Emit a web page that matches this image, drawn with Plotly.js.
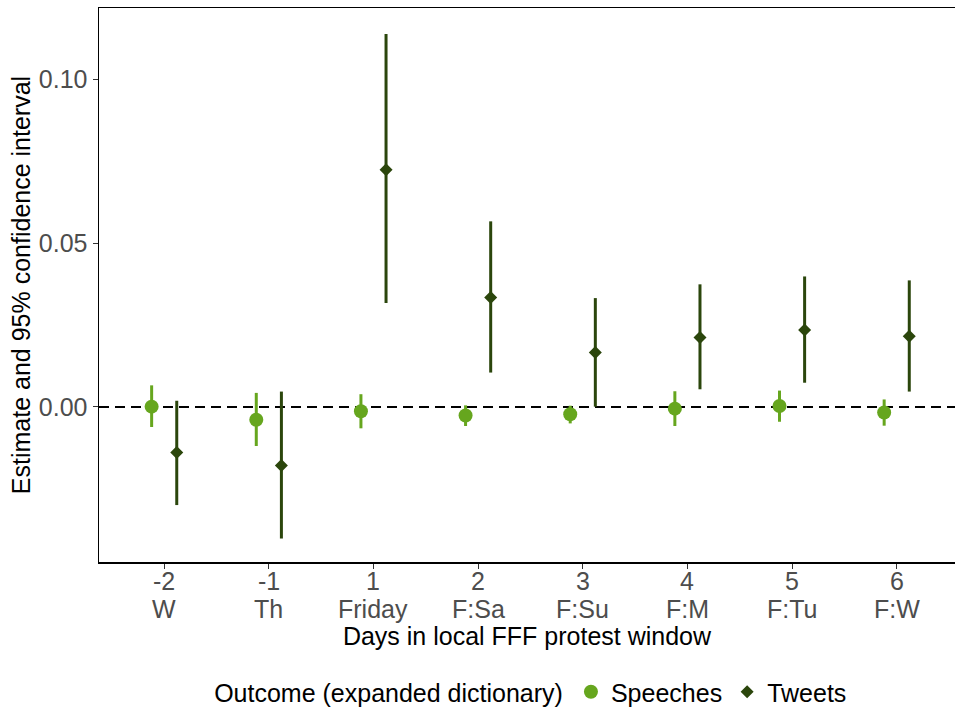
<!DOCTYPE html>
<html>
<head>
<meta charset="utf-8">
<script src="https://cdn.plot.ly/plotly-3.0.1.min.js"></script>
<style>html,body{margin:0;padding:0;background:#fff;}#chart{width:955px;height:712px;}</style>
</head>
<body>
<div id="chart"></div>
<script>
// Data
const dayNumbers = ["-2", "-1", "1", "2", "3", "4", "5", "6"];
const dayNames = ["W", "Th", "Friday", "F:Sa", "F:Su", "F:M", "F:Tu", "F:W"];

const speechesEst = [0.0001, -0.0039, -0.0013, -0.0026, -0.0022, -0.0005, 0.0003, -0.0017];
const speechesLo  = [-0.0061, -0.0119, -0.0065, -0.0058, -0.0050, -0.0058, -0.0045, -0.0057];
const speechesHi  = [0.0066, 0.0043, 0.0039, 0.0005, 0.0004, 0.0048, 0.0050, 0.0023];

const tweetsEst = [-0.0139, -0.0178, 0.0723, 0.0334, 0.0166, 0.0212, 0.0235, 0.0216];
const tweetsLo  = [-0.0299, -0.0401, 0.0317, 0.0105, 0.0001, 0.0054, 0.0074, 0.0047];
const tweetsHi  = [0.0019, 0.0047, 0.1137, 0.0566, 0.0332, 0.0374, 0.0398, 0.0386];

const yTickVals = [0.00, 0.05, 0.10];
const yTickText = ["0.00", "0.05", "0.10"];

const dodge = 0.12;
const idx = dayNumbers.map((_, i) => i);

const FONT = "Liberation Sans, Arial, Helvetica, sans-serif";
const FS = 25;
const greenCol = "#66a61e";
const darkCol = "#2b460c";

const traces = [
  {
    type: "scatter", mode: "markers", name: "Speeches",
    x: idx.map(i => i - dodge), y: speechesEst,
    error_y: {
      type: "data", symmetric: false,
      array: speechesHi.map((h, i) => h - speechesEst[i]),
      arrayminus: speechesEst.map((e, i) => e - speechesLo[i]),
      color: greenCol, thickness: 3, width: 0
    },
    marker: {symbol: "circle", size: 14, color: greenCol},
    cliponaxis: false
  },
  {
    type: "scatter", mode: "markers", name: "Tweets",
    x: idx.map(i => i + dodge), y: tweetsEst,
    error_y: {
      type: "data", symmetric: false,
      array: tweetsHi.map((h, i) => h - tweetsEst[i]),
      arrayminus: tweetsEst.map((e, i) => e - tweetsLo[i]),
      color: darkCol, thickness: 3, width: 0
    },
    marker: {symbol: "diamond", size: 10, color: darkCol},
    cliponaxis: false
  }
];

// two-line x tick labels: day number, then day name
function tickAnn(text, i, shift) {
  return {
    x: idx[i], xref: "x", y: 0, yref: "paper",
    text: text, showarrow: false, yanchor: "middle", yshift: shift,
    font: {family: FONT, size: FS, color: "#4d4d4d"}
  };
}
const tickAnnotations = dayNumbers.map((d, i) => tickAnn(d, i, -19))
  .concat(dayNames.map((n, i) => tickAnn(n, i, -47)));

const layout = {
  width: 955, height: 712,
  margin: {l: 99, r: 0, t: 8, b: 150},
  paper_bgcolor: "#fff", plot_bgcolor: "#fff",
  font: {family: FONT, size: FS, color: "#000"},
  showlegend: true,
  xaxis: {
    automargin: false,
    range: [-0.623, 7.557],
    tickmode: "array", tickvals: idx, showticklabels: false,
    showgrid: false, zeroline: false,
    showline: true, mirror: true, linecolor: "#000", linewidth: 1.5,
    ticks: "outside", ticklen: 5, tickcolor: "#333", tickwidth: 1,
    title: {text: "Days in local FFF protest window", font: {family: FONT, size: FS, color: "#000"}, standoff: 60}
  },
  yaxis: {
    automargin: false,
    range: [-0.04726, 0.12165],
    tickmode: "array", tickvals: yTickVals, ticktext: yTickText,
    showgrid: false, zeroline: false,
    showline: true, linecolor: "#000", linewidth: 1.5,
    ticks: "outside", ticklen: 5, tickcolor: "#333", tickwidth: 1,
    tickfont: {family: FONT, size: FS, color: "#4d4d4d"},
    title: {text: "Estimate and 95% confidence interval", font: {family: FONT, size: FS, color: "#000"}, standoff: 1}
  },
  legend: {
    orientation: "h", xref: "paper", x: 0.506, xanchor: "center",
    yref: "container", y: 0.028, yanchor: "middle",
    title: {text: "Outcome (expanded dictionary)", side: "left", font: {family: FONT, size: FS, color: "#000"}},
    font: {family: FONT, size: FS, color: "#000"},
    itemwidth: 30
  },
  annotations: tickAnnotations,
  shapes: [{
    type: "line", xref: "paper", x0: 0, x1: 1, yref: "y", y0: 0, y1: 0,
    line: {color: "#000", width: 2, dash: "10px,6px"}, layer: "below"
  }]
};

Plotly.newPlot("chart", traces, layout, {displayModeBar: false, staticPlot: true});
</script>
</body>
</html>
